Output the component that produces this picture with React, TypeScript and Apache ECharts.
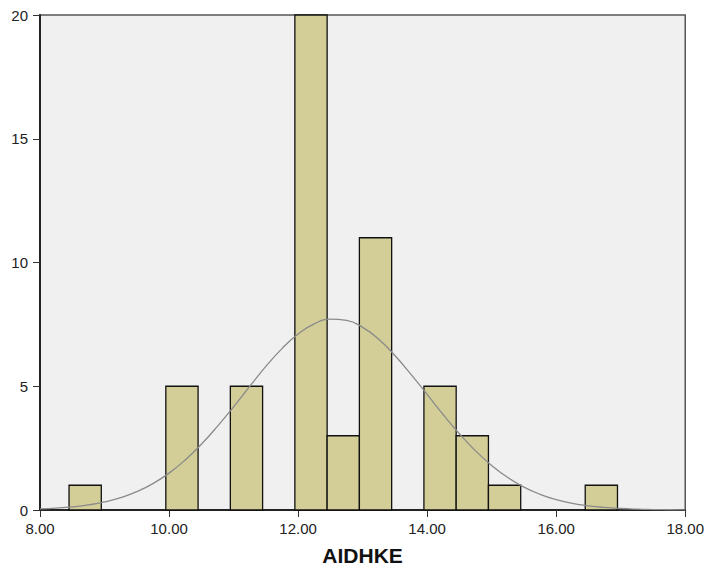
import React, { useEffect, useRef } from "react";
import * as echarts from "echarts";

const binStarts = [8.45, 9.95, 10.95, 11.95, 12.45, 12.95, 13.95, 14.45, 14.95, 16.45];
const binWidth = 0.5;
const counts = [1, 5, 5, 20, 3, 11, 5, 3, 1, 1];

const curveX = [
  8, 8.25, 8.5, 8.75, 9, 9.25, 9.5, 9.75, 10, 10.25, 10.5, 10.75, 11, 11.25, 11.5, 11.75,
  12, 12.25, 12.5, 12.75, 13, 13.25, 13.5, 13.75, 14, 14.25, 14.5, 14.75, 15, 15.25, 15.5,
  15.75, 16, 16.25, 16.5, 16.75, 17, 17.25, 17.5, 17.75, 18,
];
const curveY = [
  0.044, 0.075, 0.126, 0.205, 0.324, 0.498, 0.74, 1.067, 1.49, 2.02, 2.655, 3.38, 4.17,
  4.995, 5.8, 6.52, 7.11, 7.52, 7.71, 7.66, 7.38, 6.9, 6.24, 5.48, 4.67, 3.85, 3.08, 2.39,
  1.8, 1.31, 0.925, 0.634, 0.421, 0.271, 0.169, 0.102, 0.06, 0.034, 0.019, 0.01, 0.005,
];

const xTicks = ["8.00", "10.00", "12.00", "14.00", "16.00", "18.00"];
const axisTitle = "AIDHKE";

export default function App() {
  const ref = useRef<HTMLDivElement>(null);
  useEffect(() => {
    document.body.style.margin = "0";
    const chart = echarts.init(ref.current!, null, { renderer: "svg" });
    const barData = binStarts.map((s, i) => [s, s + binWidth, counts[i]]);
    chart.setOption({
      animation: false,
      backgroundColor: "#ffffff",
      grid: {
        left: 40,
        right: 21,
        top: 15,
        bottom: 59,
        show: true,
        backgroundColor: "#f0f0f0",
        borderColor: "#555555",
        borderWidth: 1.5,
      },
      xAxis: {
        type: "value",
        min: 8,
        max: 18,
        interval: 2,
        name: axisTitle,
        nameLocation: "middle",
        nameGap: 35,
        nameTextStyle: { fontFamily: "Liberation Sans, Arial", fontSize: 21, fontWeight: "bold", color: "#111" },
        axisLine: { show: true, onZero: false, lineStyle: { color: "#222", width: 2 } },
        axisTick: { show: true, length: 7, lineStyle: { color: "#333", width: 1 } },
        axisLabel: {
          fontFamily: "Liberation Sans, Arial",
          fontSize: 15,
          color: "#222",
          margin: 11,
          formatter: (v: number) => xTicks[Math.round((v - 8) / 2)] ?? "",
        },
        splitLine: { show: false },
      },
      yAxis: {
        type: "value",
        min: 0,
        max: 20,
        interval: 5,
        axisLine: { show: true, lineStyle: { color: "#222", width: 2 } },
        axisTick: { show: true, length: 7, lineStyle: { color: "#333", width: 1 } },
        axisLabel: { fontFamily: "Liberation Sans, Arial", fontSize: 15, color: "#222", margin: 12 },
        splitLine: { show: false },
      },
      series: [
        {
          type: "custom",
          data: barData,
          encode: { x: [0, 1], y: 2 },
          renderItem: (params: any, api: any) => {
            const p0 = api.coord([api.value(0), 0]);
            const p1 = api.coord([api.value(1), api.value(2)]);
            return {
              type: "rect",
              shape: { x: p0[0], y: p1[1], width: p1[0] - p0[0], height: p0[1] - p1[1] },
              style: { fill: "#d3ce98", stroke: "#111111", lineWidth: 1.3 },
            };
          },
          z: 2,
        },
        {
          type: "line",
          data: curveX.map((x, i) => [x, curveY[i]]),
          smooth: true,
          showSymbol: false,
          lineStyle: { color: "#8a8a8a", width: 1.3 },
          z: 3,
        },
      ],
    });
    return () => chart.dispose();
  }, []);
  return <div ref={ref} style={{ width: 707, height: 571 }} />;
}
